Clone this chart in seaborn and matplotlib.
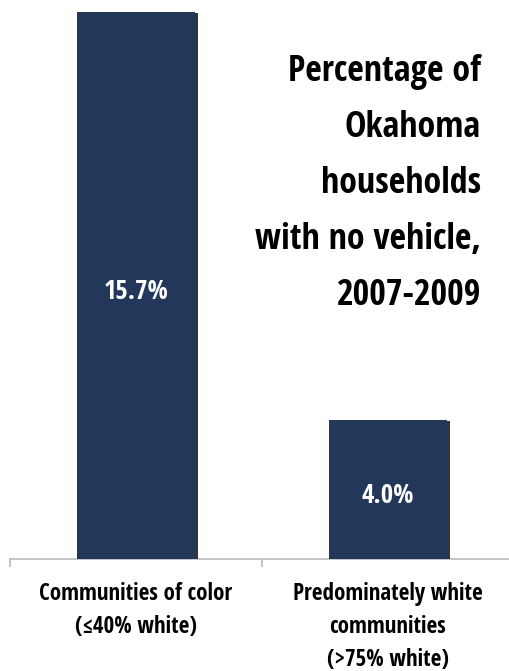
import os
import math
import matplotlib
matplotlib.use("Agg")
import matplotlib.pyplot as plt
import seaborn as sns
import pandas as pd
from matplotlib import font_manager as fm
from matplotlib import patheffects as pe
from matplotlib.font_manager import FontProperties
from matplotlib.ft2font import FT2Font

# ---------------- data ----------------
categories = ["Communities of color\n(≤40% white)",
              "Predominately white\ncommunities\n(>75% white)"]
values = [15.7, 4.0]
value_labels = ["15.7%", "4.0%"]
title_lines = ["Percentage of", "Okahoma", "households",
               "with no vehicle,", "2007-2009"]

sns.set_theme(style="white")

W, H = 510, 671
BAR = "#22375A"
AXIS = "#bfbfbf"

fig = plt.figure(figsize=(W / 100, H / 100), dpi=100)
fig.patch.set_facecolor("white")
renderer = fig.canvas.get_renderer()

# (text, target width px, target cap height px)
TARGETS = {"title": ("with no vehicle,", 228.0, 27.0),
           "label": ("Communities of color", 176.0, 19.0),
           "value": ("15.7%", 67.0, 19.5)}


def metrics(path, text, size=20.0):
    w, h, d = renderer.get_text_width_height_descent(
        text, FontProperties(fname=path, size=size), ismath=False)
    return w, h, d


def candidates():
    ok_fam = ("noto sans", "roboto", "liberation sans", "dejavu sans",
              "open sans", "lato", "inter")
    bad = ("mono", "serif", "cjk", "math", "symbol", "emoji", "italic",
           "oblique", "semi", "extrabold", "black", "light", "thin", "medium")
    seen = set()
    for f in fm.fontManager.ttflist:
        fn = os.path.basename(f.fname).lower()
        nm = f.name.lower()
        if f.fname in seen:
            continue
        if not any(nm.startswith(a) for a in ok_fam):
            continue
        if any(b in fn or b in nm for b in bad):
            continue
        wt = f.weight
        is_bold = (wt == 700 or wt == "bold") and "bold" in fn
        if not is_bold:
            continue
        try:
            if 0x2264 not in FT2Font(f.fname).get_charmap():
                continue
        except Exception:
            continue
        seen.add(f.fname)
        yield f.fname


def pick_font():
    best, best_err = None, 1e9
    for path in candidates():
        try:
            cap = metrics(path, "H")[1]
            err = 0.0
            for text, tw, tc in TARGETS.values():
                w = metrics(path, text)[0]
                err += math.log((w / cap) / (tw / tc)) ** 2
        except Exception:
            continue
        if err < best_err:
            best, best_err = path, err
    if best is None:
        best = fm.findfont(FontProperties(family="DejaVu Sans", weight="bold"))
    return best


FONT = pick_font()


def fp(size):
    return FontProperties(fname=FONT, size=size)


def fit(key):
    text, tw, tc = TARGETS[key]
    w = metrics(FONT, text)[0]
    cap = metrics(FONT, "H")[1]
    s_w = 20.0 * tw / w
    s_h = 20.0 * tc / cap
    return math.sqrt(s_w * s_h)


title_size = fit("title")
label_size = fit("label")
value_size = fit("value")

# ---------------- axes & bars ----------------
ax = fig.add_axes([10 / W, (H - 559) / H, 504 / W, 557.4 / H])
ax.set_facecolor("white")
df = pd.DataFrame({"category": categories, "value": values})
sns.barplot(data=df, x="category", y="value", color=BAR, saturation=1,
            width=0.47, ax=ax, zorder=3)
for p in ax.patches:
    p.set_edgecolor("none")
    p.set_path_effects([pe.SimplePatchShadow(offset=(1.8, -1.0),
                                             shadow_rgbFace="#111111", alpha=0.85),
                        pe.Normal()])

ax.set_xlim(-0.5, 1.5)
ax.set_ylim(0, 16)
ax.set_xlabel("")
ax.set_ylabel("")
ax.set_yticks([])
for s in ["left", "right", "top"]:
    ax.spines[s].set_visible(False)
ax.spines["bottom"].set_color(AXIS)
ax.spines["bottom"].set_linewidth(1.3)

# category-boundary tick marks
ax.set_xticks([-0.5, 0.5, 1.5], minor=True)
ax.tick_params(axis="x", which="minor", length=6, width=1.3, color=AXIS,
               direction="out", bottom=True)

# tick labels: first baseline at ~600 px, line step ~33 px
ax.set_xticks(range(len(categories)))
ax.set_xticklabels(categories, fontproperties=fp(label_size),
                   color="black", ha="center")

probe1 = fig.text(0, 0.5, "Communities of color", fontproperties=fp(label_size),
                  linespacing=1.0)
probe2 = fig.text(0, 0.5, "Communities of color\nCommunities of color",
                  fontproperties=fp(label_size), linespacing=1.0)
h1 = probe1.get_window_extent(renderer=renderer).height
h2 = probe2.get_window_extent(renderer=renderer).height
probe1.remove()
probe2.remove()
step1 = max(h2 - h1, 1.0)
ls = 35.7 / step1
for t in ax.get_xticklabels():
    t.set_linespacing(ls)

_, h, d = metrics(FONT, "Communities of color", label_size)
_, lp_h, lp_d = metrics(FONT, "lp", label_size)
first_asc = max(h, lp_h) - max(d, lp_d)
pad_px = (600 - first_asc) - 559
ax.tick_params(axis="x", which="major", length=0, pad=pad_px * 0.72, bottom=True)

# value labels inside bars
for i, (v, lab) in enumerate(zip(values, value_labels)):
    ax.annotate(lab, xy=(i, v / 2), xytext=(0, -10.0), textcoords="offset points",
                ha="center", va="baseline", color="white",
                fontproperties=fp(value_size), zorder=5)

# title block (right aligned)
baselines = [81, 137, 193, 249, 305]
for line, b in zip(title_lines, baselines):
    fig.text(481 / W, 1 - b / H, line, ha="right", va="baseline",
             color="black", fontproperties=fp(title_size))

fig.savefig("out.png", dpi=100, facecolor="white")
